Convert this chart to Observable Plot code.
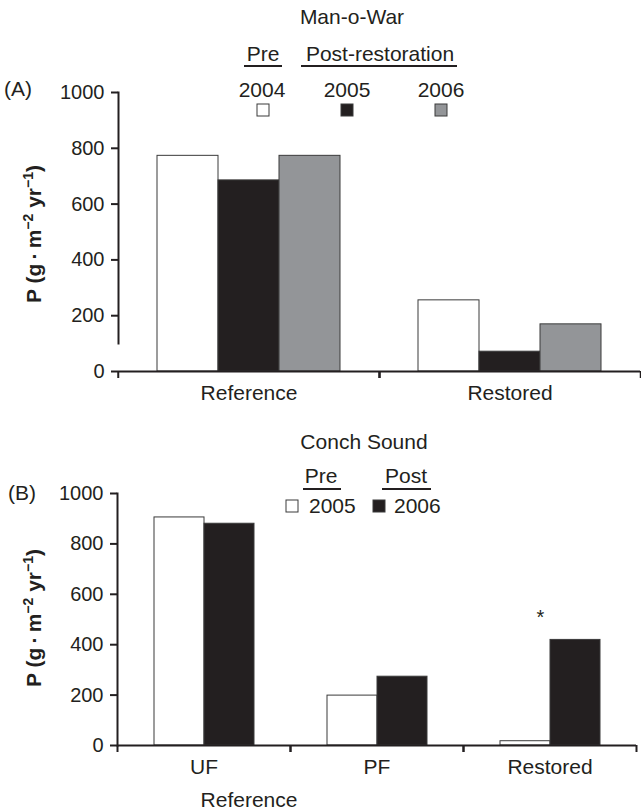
<!DOCTYPE html>
<html>
<head>
<meta charset="utf-8">
<script src="https://cdn.jsdelivr.net/npm/d3@7"></script>
<script src="https://cdn.jsdelivr.net/npm/@observablehq/plot@0.6"></script>
<style>
  html, body { margin: 0; padding: 0; background: #fff; }
  #wrap { position: relative; width: 641px; height: 812px; font-family: "Liberation Sans", Arial, Helvetica, sans-serif; color: #231f20; }
  #wrap > * { position: absolute; left: 0; }
  #overlay { top: 0; pointer-events: none; }
  #overlay text { font-family: "Liberation Sans", Arial, Helvetica, sans-serif; fill: #231f20; }
</style>
</head>
<body>
<div id="wrap"></div>
<script>
// ---- Data ----
const groupsA = ["Reference", "Restored"];
const yearsA = ["2004", "2005", "2006"];
const valuesA2004 = [773, 255];
const valuesA2005 = [685, 71];
const valuesA2006 = [773, 169];

const groupsB = ["UF", "PF", "Restored"];
const yearsB = ["2005", "2006"];
const valuesB2005 = [905, 198, 17];
const valuesB2006 = [880, 273, 419];

const yTicks = [0, 200, 400, 600, 800, 1000];
const starsB = [{group: "Restored", year: "2006", label: "*"}];

// ---- Build tables ----
const rowsA = [];
[valuesA2004, valuesA2005, valuesA2006].forEach((vals, k) =>
  groupsA.forEach((g, i) => rowsA.push({group: g, year: yearsA[k], value: vals[i]})));
const rowsB = [];
[valuesB2005, valuesB2006].forEach((vals, k) =>
  groupsB.forEach((g, i) => rowsB.push({group: g, year: yearsB[k], value: vals[i]})));
const starRows = starsB.map(s => ({...s, value: rowsB.find(r => r.group === s.group && r.year === s.year).value}));

const font = '"Liberation Sans", Arial, Helvetica, sans-serif';
const ink = "#231f20";

function panel({groups, years, rows, colors, width, height, mt, mb, ml, mr, padOuter, axisGap, extra}) {
  const step = (width - ml - mr) / groups.length;
  return Plot.plot({
    width, height,
    marginTop: mt, marginBottom: mb, marginLeft: ml, marginRight: mr,
    style: {fontFamily: font, fontSize: "20px", color: ink, background: "transparent", overflow: "visible"},
    fx: {domain: groups, padding: 0, label: null},
    x: {domain: years, paddingInner: 0, paddingOuter: padOuter, axis: null},
    y: {domain: [0, 1000], label: null},
    color: {domain: years, range: colors},
    marks: [
      Plot.barY(rows, {fx: "group", x: "year", y: "value", fill: "year", stroke: "#3a3a3a", strokeWidth: 1}),
      Plot.ruleY([0], {stroke: ink, strokeWidth: 2}),
      Plot.axisY(yTicks, {tickSize: 7, tickPadding: 7, strokeWidth: 2, stroke: ink, label: null, fontSize: 20, tickFormat: d => String(d)}),
      Plot.frame({anchor: "left", facetAnchor: "left", stroke: ink, strokeWidth: 2, insetBottom: axisGap}),
      Plot.axisFx({anchor: "bottom", tickSize: 0, tickPadding: 14, label: null, fontSize: 21}),
      Plot.axisFx({anchor: "bottom", tickSize: 7, tickFormat: () => "", dx: -step / 2, strokeWidth: 2, stroke: ink, label: null}),
      Plot.axisFx([groups[groups.length - 1]], {anchor: "bottom", tickSize: 7, tickFormat: () => "", dx: step / 2, strokeWidth: 2, stroke: ink, label: null}),
      ...(extra || [])
    ]
  });
}

const wrap = document.getElementById("wrap");

const plotA = panel({
  groups: groupsA, years: yearsA, rows: rowsA,
  colors: ["#ffffff", ink, "#939598"],
  width: 641, height: 410, mt: 92, mb: 39, ml: 117, mr: 1, padOuter: 0.61, axisGap: 28
});
plotA.style.top = "0px";
wrap.appendChild(plotA);

const plotB = panel({
  groups: groupsB, years: yearsB, rows: rowsB,
  colors: ["#ffffff", ink],
  width: 641, height: 402, mt: 83, mb: 67, ml: 117, mr: 5, padOuter: 0.70, axisGap: 0,
  extra: [Plot.text(starRows, {fx: "group", x: "year", y: "value", text: "label", dx: -35, dy: -22, fontSize: 20})]
});
plotB.style.top = "410px";
wrap.appendChild(plotB);

// ---- Titles, legends, panel letters and y labels ----
const ov = d3.select(wrap).append("svg").attr("id", "overlay").attr("width", 641).attr("height", 812);

function txt(x, y, s, opts = {}) {
  return ov.append("text").attr("x", x).attr("y", y).attr("text-anchor", opts.anchor || "middle")
    .attr("font-size", opts.size || 21).text(s);
}
function uline(x1, x2, y) {
  ov.append("line").attr("x1", x1).attr("x2", x2).attr("y1", y).attr("y2", y).attr("stroke", ink).attr("stroke-width", 2);
}
function swatch(cx, cy, fill) {
  ov.append("rect").attr("x", cx - 6).attr("y", cy - 6).attr("width", 12).attr("height", 12)
    .attr("fill", fill).attr("stroke", "#3a3a3a").attr("stroke-width", 1);
}
function ylabel(x, y) {
  const t = ov.append("text").attr("transform", `translate(${x},${y}) rotate(-90)`)
    .attr("text-anchor", "middle").attr("font-size", 21).attr("font-weight", "bold");
  t.append("tspan").text("P (g\u2009·\u2009m");
  t.append("tspan").attr("dy", -8).attr("font-size", 14).text("\u22122");
  t.append("tspan").attr("dy", 8).text(" yr");
  t.append("tspan").attr("dy", -8).attr("font-size", 14).text("\u22121");
  t.append("tspan").attr("dy", 8).text(")");
}

// Panel A
txt(352, 24, "Man-o-War");
txt(263, 61, "Pre");
uline(244, 282, 66);
txt(380, 61, "Post-restoration");
uline(301, 457, 66);
txt(262, 97, "2004");
txt(347, 97, "2005");
txt(441, 97, "2006");
swatch(263, 110, "#ffffff");
swatch(347, 110, ink);
swatch(441, 110, "#939598");
txt(4, 96, "(A)", {anchor: "start"});
ylabel(41, 234);

// Panel B
txt(364, 449, "Conch Sound");
txt(321, 483, "Pre");
uline(303, 341, 489);
txt(406, 483, "Post");
uline(382, 431, 489);
swatch(292, 506, "#ffffff");
txt(309, 513, "2005", {anchor: "start"});
swatch(379, 506, ink);
txt(394, 513, "2006", {anchor: "start"});
txt(8, 500, "(B)", {anchor: "start"});
ylabel(41, 618);
txt(249, 807, "Reference");
</script>
</body>
</html>
